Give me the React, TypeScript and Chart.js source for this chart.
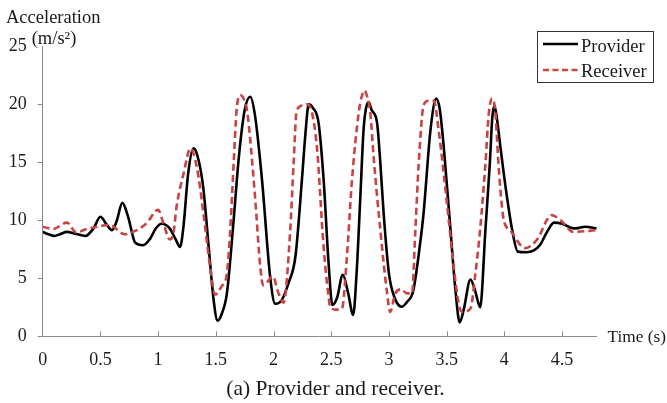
import React, { useEffect, useRef } from 'react';
import { Chart, registerables } from 'chart.js';

Chart.register(...registerables);

// ---- Data ----
const providerTime = [
  0.0, 0.05, 0.1, 0.15, 0.21, 0.28, 0.37, 0.44, 0.5, 0.55, 0.6, 0.64, 0.69, 0.74, 0.8, 0.87, 0.93, 0.98,
  1.03, 1.1, 1.15, 1.19, 1.22, 1.26, 1.306, 1.34, 1.39, 1.44, 1.48, 1.515, 1.55, 1.596, 1.65, 1.7, 1.75,
  1.798, 1.84, 1.9, 1.971, 2.015, 2.07, 2.13, 2.19, 2.246, 2.275, 2.305, 2.34, 2.39, 2.434, 2.477, 2.51, 2.55,
  2.6, 2.645, 2.69, 2.72, 2.752, 2.78, 2.8, 2.824, 2.85, 2.897, 2.925, 2.954, 3.0, 3.05, 3.11, 3.16, 3.21,
  3.27, 3.3, 3.36, 3.41, 3.44, 3.475, 3.533, 3.576, 3.613, 3.648, 3.706, 3.75, 3.79, 3.836, 3.874, 3.895,
  3.914, 3.935, 3.966, 4.01, 4.067, 4.116, 4.19, 4.255, 4.31, 4.37, 4.43, 4.5, 4.6, 4.65, 4.7, 4.8,
];
const providerAccel = [
  9.0, 8.8, 8.65, 8.8, 9.0, 8.85, 8.65, 9.3, 10.3, 9.7, 9.15, 9.9, 11.5, 10.3, 8.1, 7.85, 8.4, 9.3,
  9.7, 9.3, 8.4, 7.7, 9.5, 14.0, 16.2, 15.6, 12.9, 7.5, 3.2, 1.35, 1.9, 3.7, 9.5, 15.5, 19.5,
  20.65, 19.0, 13.5, 5.1, 2.8, 3.1, 4.6, 6.9, 13.5, 17.3, 20.0, 19.7, 18.4, 13.5, 6.3, 2.7, 3.3,
  5.3, 3.8, 1.85, 5.5, 12.0, 17.8, 19.6, 20.2, 19.5, 18.4, 15.0, 10.6, 5.4, 3.3, 2.55, 3.0, 3.9,
  8.0, 10.6, 17.8, 20.5, 19.6, 16.3, 9.2, 4.0, 1.2, 2.3, 4.9, 3.8, 2.5, 9.2, 14.9, 18.8,
  19.9, 18.8, 16.3, 12.9, 9.2, 7.3, 7.25, 7.4, 7.9, 9.0, 9.8, 9.7, 9.3, 9.35, 9.45, 9.3,
];
const receiverTime = [
  0.0, 0.09, 0.21, 0.29, 0.38, 0.47, 0.58, 0.71, 0.815, 0.9, 1.0, 1.046, 1.1, 1.133, 1.16, 1.22, 1.28,
  1.335, 1.393, 1.45, 1.494, 1.55, 1.596, 1.625, 1.655, 1.68, 1.711, 1.745, 1.772, 1.84, 1.885, 1.91,
  1.995, 2.04, 2.087, 2.145, 2.174, 2.2, 2.25, 2.29, 2.33, 2.376, 2.434, 2.477, 2.49, 2.54, 2.593, 2.636,
  2.68, 2.737, 2.765, 2.787, 2.81, 2.839, 2.867, 2.925, 2.984, 3.01, 3.055, 3.105, 3.157, 3.2, 3.229,
  3.258, 3.3, 3.344, 3.39, 3.43, 3.475, 3.518, 3.561, 3.604, 3.634, 3.706, 3.75, 3.79, 3.836, 3.865,
  3.894, 3.923, 3.945, 3.966, 3.995, 4.05, 4.18, 4.28, 4.41, 4.487, 4.6, 4.8,
];
const receiverAccel = [
  9.45, 9.25, 9.8, 8.95, 9.25, 9.45, 9.6, 8.8, 9.15, 9.75, 10.9, 9.75, 8.35, 8.9, 11.2, 14.0, 16.2,
  14.6, 10.6, 6.0, 3.6, 4.3, 5.4, 9.2, 15.0, 19.5, 20.8, 20.4, 19.4, 12.0, 6.0, 4.4,
  5.15, 3.8, 2.9, 9.2, 14.9, 19.4, 19.9, 20.0, 19.4, 16.3, 7.7, 3.4, 2.55, 2.3, 2.4, 6.9,
  13.5, 19.2, 20.7, 21.2, 20.7, 19.2, 15.5, 9.2, 3.7, 2.1, 3.7, 4.05, 3.7, 3.7, 9.2,
  14.9, 19.9, 20.3, 20.3, 17.8, 14.0, 10.0, 6.0, 2.85, 2.1, 2.4, 5.5, 9.2, 14.9, 19.2,
  20.5, 19.2, 15.5, 12.6, 10.0, 9.15, 7.6, 8.3, 10.45, 10.0, 9.0, 9.15,
];
const xTickLabels = ['0', '0.5', '1', '1.5', '2', '2.5', '3', '3.5', '4', '4.5'];
const yTickLabels = ['0', '5', '10', '15', '20', '25'];
const seriesNames = ['Provider', 'Receiver'];
const yAxisTitle = 'Acceleration';
const yAxisUnit = '(m/s²)';
const xAxisTitle = 'Time (s)';
const caption = '(a) Provider and receiver.';

const FONT = "'Liberation Serif', 'Times New Roman', serif";
const AXIS = '#8a8a8a';
const TEXT = '#1a1a1a';
const RED = '#c94343';
const BLACK = '#000000';

export default function App() {
  const ref = useRef<HTMLCanvasElement | null>(null);

  useEffect(() => {
    if (!ref.current) return;

    const extras = {
      id: 'extras',
      afterDraw(chart: any) {
        const { ctx, chartArea, scales } = chart;
        const xs = scales.x;
        ctx.save();
        // inward x tick marks
        ctx.strokeStyle = AXIS;
        ctx.lineWidth = 1;
        xs.ticks.forEach((t: any) => {
          if (t.value <= 0) return;
          const px = Math.round(xs.getPixelForValue(t.value)) + 0.5;
          ctx.beginPath();
          ctx.moveTo(px, chartArea.bottom);
          ctx.lineTo(px, chartArea.bottom - 5);
          ctx.stroke();
        });
        // axis titles
        ctx.fillStyle = TEXT;
        ctx.textAlign = 'left';
        ctx.textBaseline = 'alphabetic';
        ctx.font = `18.5px ${FONT}`;
        ctx.fillText(yAxisTitle, 6, 23.3);
        ctx.fillText(yAxisUnit, 31.7, 44.3);
        ctx.font = `17.3px ${FONT}`;
        ctx.textBaseline = 'middle';
        ctx.fillText(xAxisTitle, 607.5, chartArea.bottom + 1.5);
        // caption
        ctx.textAlign = 'center';
        ctx.textBaseline = 'alphabetic';
        ctx.font = `21.5px ${FONT}`;
        ctx.fillText(caption, 335.5, 394.7);
        // legend
        ctx.strokeStyle = '#333333';
        ctx.lineWidth = 1;
        ctx.strokeRect(537.5, 31.5, 116, 51);
        ctx.lineWidth = 2.6;
        ctx.strokeStyle = BLACK;
        ctx.beginPath();
        ctx.moveTo(543, 44);
        ctx.lineTo(578, 44);
        ctx.stroke();
        ctx.strokeStyle = RED;
        ctx.setLineDash([6, 3.5]);
        ctx.beginPath();
        ctx.moveTo(543, 70);
        ctx.lineTo(578, 70);
        ctx.stroke();
        ctx.setLineDash([]);
        ctx.fillStyle = TEXT;
        ctx.textAlign = 'left';
        ctx.font = `18.5px ${FONT}`;
        ctx.fillText(seriesNames[0], 581, 51.5);
        ctx.fillText(seriesNames[1], 581, 77.3);
        ctx.restore();
      },
    };

    const chart = new Chart(ref.current, {
      type: 'line',
      data: {
        datasets: [
          {
            label: seriesNames[0],
            data: providerTime.map((t, i) => ({ x: t, y: providerAccel[i] })),
            borderColor: BLACK,
            borderWidth: 2.6,
            pointRadius: 0,
            fill: false,
            cubicInterpolationMode: 'monotone',
            order: 1,
          },
          {
            label: seriesNames[1],
            data: receiverTime.map((t, i) => ({ x: t, y: receiverAccel[i] })),
            borderColor: RED,
            borderWidth: 2.6,
            borderDash: [7, 4],
            pointRadius: 0,
            fill: false,
            cubicInterpolationMode: 'monotone',
            order: 0,
          },
        ],
      },
      plugins: [extras],
      options: {
        responsive: false,
        devicePixelRatio: 1,
        animation: false,
        layout: { padding: { top: 46.3, right: 70.3, left: 0, bottom: 0 } },
        plugins: {
          legend: { display: false },
          tooltip: { enabled: false },
          title: { display: false },
        },
        scales: {
          x: {
            type: 'linear',
            min: 0,
            max: 4.8,
            afterBuildTicks: (s: any) => {
              s.ticks = xTickLabels.map((l) => ({ value: parseFloat(l) }));
            },
            afterFit: (s: any) => {
              s.height = 66.7;
            },
            ticks: {
              autoSkip: false,
              maxRotation: 0,
              padding: 13,
              color: TEXT,
              font: { family: FONT, size: 18 },
              callback: (_v: any, i: number) => xTickLabels[i],
            },
            grid: { display: true, drawOnChartArea: false, drawTicks: false },
            border: { display: true, color: AXIS, width: 1 },
          },
          y: {
            type: 'linear',
            min: 0,
            max: 25,
            afterBuildTicks: (s: any) => {
              s.ticks = yTickLabels.map((l) => ({ value: parseFloat(l) }));
            },
            afterFit: (s: any) => {
              s.width = 42.7;
            },
            ticks: {
              padding: 11,
              color: TEXT,
              font: { family: FONT, size: 18 },
              callback: (_v: any, i: number) => yTickLabels[i],
            },
            grid: {
              display: true,
              drawOnChartArea: false,
              drawTicks: true,
              tickLength: 5,
              color: (c: any) => (c.tick && c.tick.value === 25 ? 'rgba(0,0,0,0)' : AXIS),
            },
            border: { display: true, color: AXIS, width: 1 },
          },
        },
      },
    } as any);

    return () => chart.destroy();
  }, []);

  return (
    <div style={{ position: 'absolute', left: 0, top: 0, width: 667, height: 403, background: '#ffffff' }}>
      <canvas ref={ref} width={667} height={403} style={{ display: 'block', width: 667, height: 403 }} />
    </div>
  );
}
